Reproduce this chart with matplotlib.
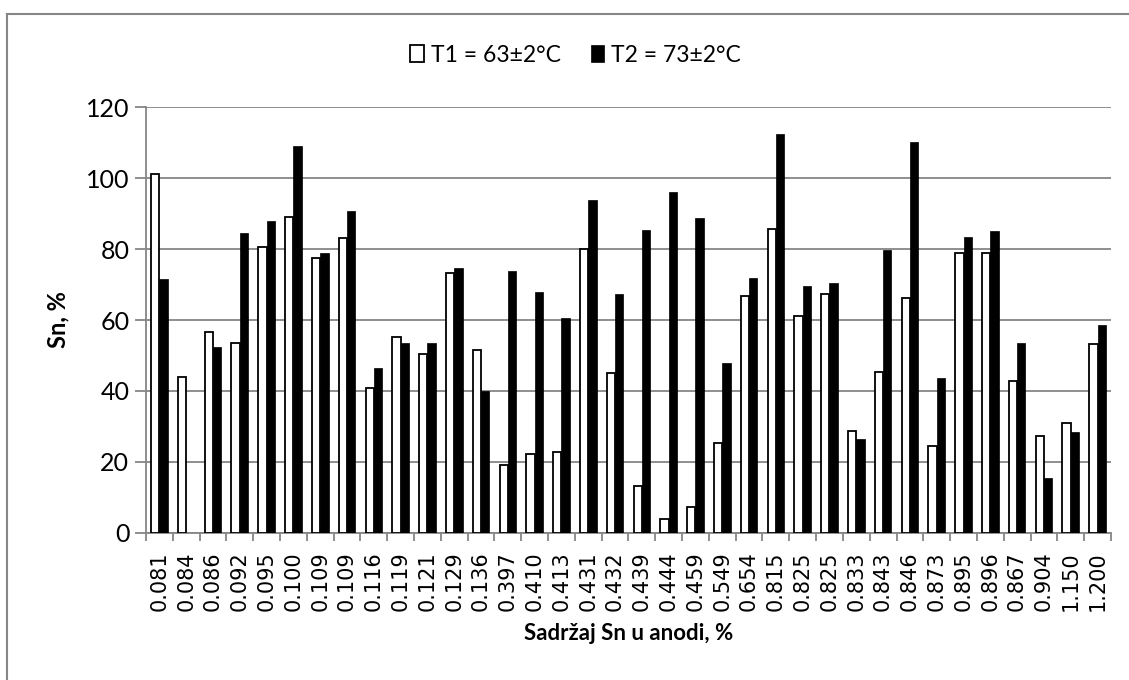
import numpy as np
import matplotlib
matplotlib.use("Agg")
import matplotlib.pyplot as plt
from matplotlib.lines import Line2D

# data
labels = ["0.081", "0.084", "0.086", "0.092", "0.095", "0.100", "0.109", "0.109",
          "0.116", "0.119", "0.121", "0.129", "0.136", "0.397", "0.410", "0.413",
          "0.431", "0.432", "0.439", "0.444", "0.459", "0.549", "0.654", "0.815",
          "0.825", "0.825", "0.833", "0.843", "0.846", "0.873", "0.895", "0.896",
          "0.867", "0.904", "1.150", "1.200"]
t1 = [101.1, 44.0, 56.6, 53.5, 80.7, 89.1, 77.6, 83.2, 40.8, 55.2, 50.5, 73.2,
      51.5, 19.2, 22.3, 22.9, 80.0, 45.1, 13.3, 3.9, 7.4, 25.3, 66.9, 85.6,
      61.1, 67.2, 28.6, 45.3, 66.2, 24.5, 79.0, 79.0, 42.9, 27.2, 30.9, 53.3]
t2 = [71.5, 0.0, 52.5, 84.6, 88.0, 109.1, 79.0, 90.7, 46.4, 53.4, 53.4, 74.6,
      39.9, 73.9, 68.0, 60.7, 93.9, 67.2, 85.4, 96.0, 88.6, 47.9, 71.7, 112.4,
      69.7, 70.3, 26.6, 79.8, 110.1, 43.8, 83.5, 85.2, 53.4, 15.5, 28.5, 58.5]
series_names = ["T1 = 63\u00b12\u00b0C", "T2 = 73\u00b12\u00b0C"]
yticks = [0, 20, 40, 60, 80, 100, 120]

grey = "#868686"
txt_font = "Lato"

fig = plt.figure(figsize=(11.29, 6.8), dpi=100)
ax = fig.add_axes([0.1293, 0.2162, 0.8547, 0.6264])

x = np.arange(len(labels))
w = 0.31
ax.bar(x - w / 2, t1, w, color="white", edgecolor="black", linewidth=1.3,
       label=series_names[0], zorder=3)
ax.bar(x + w / 2, t2, w, color="black", edgecolor="black", linewidth=0.5,
       label=series_names[1], zorder=3)

ax.set_xlim(-0.5, len(labels) - 0.5)
ax.set_ylim(0, 120)
ax.set_yticks(yticks)
ax.set_yticklabels([str(v) for v in yticks], fontsize=18, family=txt_font)
ax.grid(axis="y", color=grey, linewidth=1.3, zorder=0)

ax.set_xticks(x)
ax.set_xticklabels(labels, rotation=90, fontsize=15, family="DejaVu Sans")
ax.set_xticks(np.arange(len(labels) + 1) - 0.5, minor=True)
ax.tick_params(axis="x", which="major", length=0, pad=13)
ax.tick_params(axis="x", which="minor", length=6, color=grey, width=1.3)
ax.tick_params(axis="y", length=8, color=grey, width=1.3, pad=4)

for s in ["top", "right"]:
    ax.spines[s].set_visible(False)
for s in ["left", "bottom"]:
    ax.spines[s].set_color(grey)
    ax.spines[s].set_linewidth(1.3)

ax.set_ylabel("Sn, %", fontsize=17, fontweight="bold", family=txt_font, labelpad=12)
ax.set_xlabel("Sadr\u017eaj Sn u anodi, %", fontsize=16, fontweight="bold",
              family=txt_font, labelpad=9)

leg = fig.legend(loc="center", bbox_to_anchor=(0.51, 0.919), ncol=2, frameon=False,
                 prop={"family": txt_font, "size": 16.5}, handlelength=0.6,
                 handleheight=0.75, handletextpad=0.3, columnspacing=1.3)

# chart area border (left and top edges visible)
fig.add_artist(Line2D([7 / 1129, 7 / 1129], [0, 1 - 14 / 680], transform=fig.transFigure,
                      color=grey, linewidth=1.5))
fig.add_artist(Line2D([7 / 1129, 1], [1 - 14 / 680, 1 - 14 / 680], transform=fig.transFigure,
                      color=grey, linewidth=1.5))

fig.savefig("out.png", dpi=100, facecolor="white")
